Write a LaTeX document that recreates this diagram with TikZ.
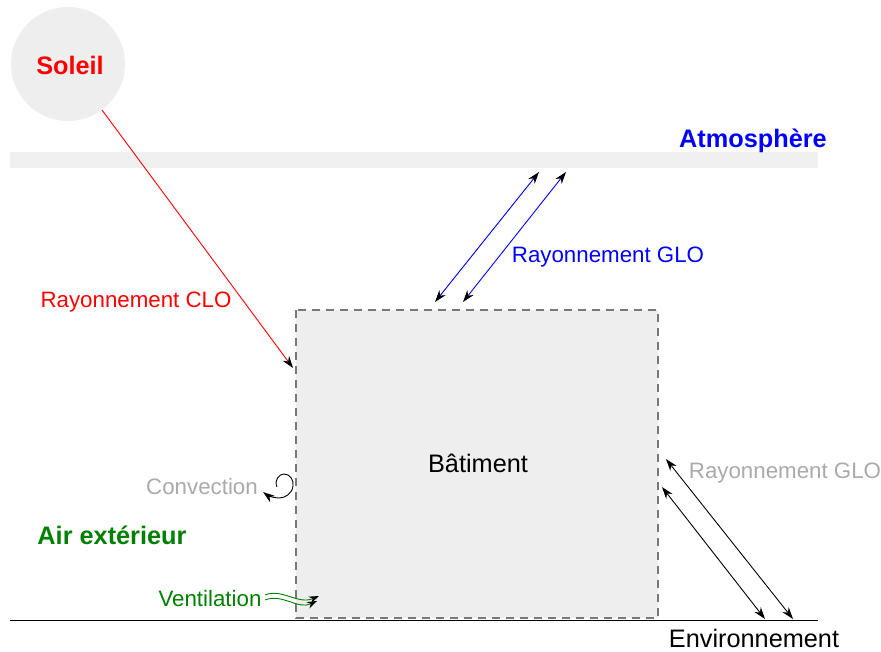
\documentclass[tikz,border=0pt]{standalone}
\usepackage{fontspec}
\setmainfont{Liberation Sans}
\usetikzlibrary{arrows.meta}
\definecolor{boxfill}{HTML}{EEEEEE}
\definecolor{bandfill}{HTML}{F0F0F0}
\definecolor{edgegray}{HTML}{777777}
\definecolor{labelgray}{HTML}{AAAAAA}
\definecolor{airgreen}{HTML}{008000}
\tikzset{
  lbl/.style={anchor=base, inner sep=0pt, font=\fontsize{22.3}{26}\selectfont},
  biglbl/.style={anchor=base, inner sep=0pt, font=\fontsize{25.3}{30}\selectfont},
  boldlbl/.style={anchor=base, inner sep=0pt, font=\fontsize{25.3}{30}\selectfont\bfseries},
  flux/.style={line width=0.9pt},
  tip/.style={-{Stealth[length=12pt,width=8pt,black]}},
  tips/.style={{Stealth[length=12pt,width=8pt,black]}-{Stealth[length=12pt,width=8pt,black]}},
}
\begin{document}
\begin{tikzpicture}[x=1pt,y=-1pt]
\useasboundingbox[fill=white] (0,0) rectangle (881,651);

% sky band and sun
\fill[bandfill] (10,152) rectangle (818,168);
\node[circle, fill=boxfill, minimum size=114pt, inner sep=0pt] (sun) at (68,64) {};
\node[boldlbl, text=red] (soleil) at (70,74) {Soleil};
\node[boldlbl, text=blue] (atmo) at (753,147) {Atmosphère};

% building and ground
\draw[edgegray, fill=boxfill, line width=1.3pt, dash pattern=on 8pt off 6pt] (296,310) rectangle (658,618);
\node[biglbl] (bat) at (478,472) {Bâtiment};
\draw[line width=1pt] (10,620) -- (818,620);
\node[biglbl] (env) at (754,647) {Environnement};

% short-wave solar radiation
\coordinate (clo0) at (102,110);
\coordinate (clo1) at (293,368);
\draw[flux, red, tip] (clo0) -- (clo1);
\node[lbl, text=red] (clo) at (136,307) {Rayonnement CLO};

% long-wave exchange with the sky
\coordinate (ga0) at (435,302);
\coordinate (ga1) at (539,172);
\coordinate (gb0) at (463,302);
\coordinate (gb1) at (566,172);
\draw[flux, blue, tips] (ga0) -- (ga1);
\draw[flux, blue, tips] (gb0) -- (gb1);
\node[lbl, text=blue] (glo1) at (608,262) {Rayonnement GLO};

% long-wave exchange with the surroundings
\coordinate (ea0) at (666,459);
\coordinate (ea1) at (793,619);
\coordinate (eb0) at (662,487);
\coordinate (eb1) at (765,619);
\draw[flux, tips] (ea0) -- (ea1);
\draw[flux, tips] (eb0) -- (eb1);
\node[lbl, text=labelgray] (glo2) at (785,478) {Rayonnement GLO};

% outdoor air
\node[boldlbl, text=airgreen] (air) at (112,544) {Air extérieur};

% convection swirl
\node[lbl, text=labelgray] (conv) at (202,494) {Convection};
\coordinate (sw0) at (277,487);
\coordinate (sw1) at (263,492);
\draw[flux, tip] (sw0) .. controls (274,480) and (279,474) .. (284,474)
  .. controls (290,474) and (294,480) .. (293,486)
  .. controls (292,494) and (285,498) .. (279,498)
  .. controls (273,498) and (267,495) .. (sw1);

% ventilation
\node[lbl, text=airgreen] (vent) at (210,606) {Ventilation};
\coordinate (va0) at (265,595);
\coordinate (va1) at (319,596);
\coordinate (vb0) at (265,600);
\coordinate (vb1) at (317,601);
\draw[flux, airgreen, -{Stealth[length=10pt,width=7pt,black]}] (va0) .. controls (282,588) and (298,605) .. (va1);
\draw[flux, airgreen, -{Stealth[length=10pt,width=7pt,black]}] (vb0) .. controls (282,593) and (298,610) .. (vb1);
\end{tikzpicture}
\end{document}
